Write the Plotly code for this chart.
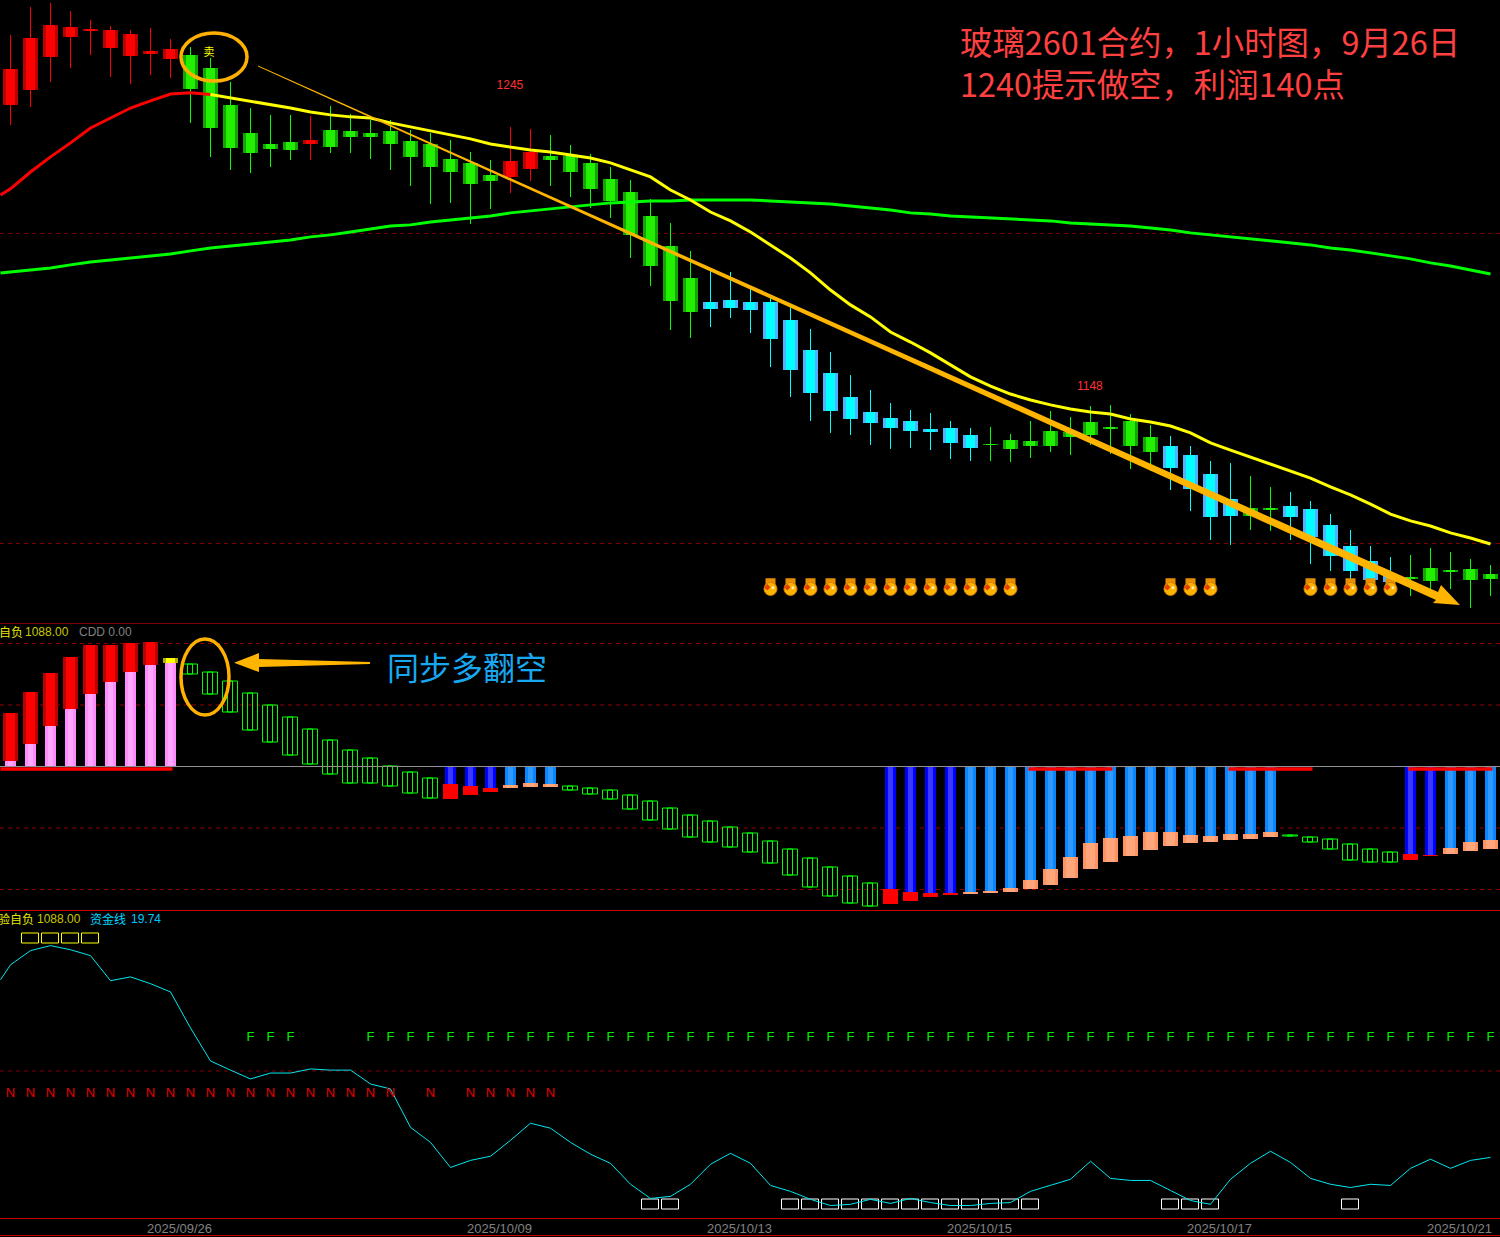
import plotly.graph_objects as go

W, H = 1500, 1237

# ---------- price panel ----------
candle_kind = "R"*9+"G"*6+"R"+"G"*9+"RR"+"G"*8+"C"*14+"G"*9+"C"*4+"GG"+"C"*6+"G"*5
price_high = [1277.8,1287.6,1289.0,1286.2,1283.0,1280.9,1279.5,1280.2,1276.4,1273.6,1269.7,1261.3,1252.2,1249.8,1249.8,
 1249.4,1252.9,1250.1,1248.0,1248.0,1244.5,1243.5,1241.0,1236.8,1234.0,1245.6,1244.9,1242.8,1239.3,1236.1,
 1231.6,1227.0,1220.4,1212.0,1202.2,1195.5,1194.8,1189.6,1186.1,1182.6,1174.9,1166.8,1158.8,1153.5,1149.0,
 1146.5,1145.5,1142.7,1140.2,1140.6,1138.1,1142.7,1146.2,1144.1,1147.9,1148.3,1145.1,1141.3,1137.4,1133.9,
 1128.7,1128.0,1123.4,1119.6,1117.8,1114.7,1110.1,1104.5,1098.9,1095.1,1095.8,1098.2,1096.8,1094.4,1092.3]
price_low = [1246.3,1252.6,1261.3,1266.2,1270.8,1263.1,1260.6,1263.8,1262.7,1247.0,1235.1,1230.5,1229.5,1231.6,1234.0,
 1234.0,1236.5,1236.5,1234.4,1230.5,1224.9,1218.6,1219.0,1211.6,1216.9,1222.5,1226.7,1224.9,1221.1,1217.2,
 1213.7,1199.7,1189.9,1174.5,1171.7,1175.6,1178.7,1173.5,1161.6,1151.1,1142.7,1138.5,1137.8,1134.3,1132.9,
 1133.2,1132.5,1129.4,1128.7,1128.7,1128.3,1129.7,1131.8,1130.8,1134.3,1131.1,1125.9,1125.2,1118.5,1111.2,
 1101.0,1099.3,1104.5,1104.2,1101.0,1092.6,1090.2,1084.6,1081.4,1081.4,1081.4,1083.5,1083.9,1077.2,1081.4]
body_top = [1265.9,1276.7,1281.3,1280.6,1279.9,1279.5,1278.1,1272.2,1272.9,1270.8,1266.2,1253.3,1243.5,1239.6,1240.3,
 1241.0,1244.5,1244.2,1243.5,1244.2,1240.7,1239.6,1234.4,1233.0,1228.8,1233.7,1236.8,1235.4,1235.4,1233.0,
 1227.4,1222.8,1214.4,1203.9,1192.7,1184.3,1185.0,1184.3,1184.3,1178.0,1167.5,1159.5,1151.1,1145.8,1143.7,
 1142.7,1139.9,1140.2,1137.8,1134.6,1136.0,1135.7,1139.2,1138.8,1142.3,1140.6,1142.7,1137.0,1133.9,1130.8,
 1124.1,1115.4,1112.2,1112.2,1112.9,1111.9,1106.3,1098.9,1093.7,1088.8,1088.1,1091.2,1090.5,1090.9,1089.1]
body_bottom = [1253.3,1258.5,1270.1,1277.1,1279.2,1273.2,1270.4,1271.1,1269.4,1258.9,1245.2,1238.2,1236.5,1237.9,1237.5,
 1239.6,1238.6,1242.0,1242.0,1239.6,1235.1,1231.6,1229.8,1225.6,1226.7,1228.1,1230.9,1234.0,1229.8,1223.9,
 1219.7,1207.8,1196.9,1184.7,1180.8,1181.9,1182.2,1181.5,1171.4,1160.5,1152.5,1146.2,1143.4,1142.0,1140.2,
 1139.2,1138.8,1135.0,1133.2,1134.3,1132.9,1133.9,1133.9,1137.0,1137.8,1139.9,1133.9,1131.8,1126.2,1118.9,
 1109.1,1109.4,1109.4,1111.5,1109.1,1102.1,1095.4,1090.2,1087.0,1086.3,1087.7,1086.7,1089.8,1087.0,1087.4]
ma_fast = [1223.9,1229.8,1235.1,1240.0,1245.2,1248.7,1252.2,1254.7,1257.1,1257.5,1256.9,1255.7,1254.7,1253.3,1252.2,
 1250.8,1249.8,1249.1,1248.7,1247.0,1245.6,1244.2,1242.8,1241.4,1239.6,1238.6,1237.5,1236.8,1235.8,1234.7,
 1233.0,1230.5,1228.1,1223.5,1220.0,1215.8,1212.7,1208.8,1204.3,1199.7,1194.5,1188.5,1183.3,1179.1,1173.8,
 1170.3,1166.5,1162.3,1158.1,1154.9,1152.1,1150.0,1148.3,1146.9,1145.8,1145.1,1143.4,1142.3,1140.9,1138.5,
 1135.0,1132.5,1130.1,1127.6,1125.2,1122.7,1119.6,1116.8,1113.6,1110.1,1107.7,1105.9,1103.5,1101.7,1099.6]
ma_fast_start = 1221.8
ma_slow = [1194.8,1195.5,1196.2,1197.3,1198.3,1199.0,1199.7,1200.4,1201.1,1202.2,1203.2,1203.9,1204.6,1205.3,1206.0,
 1207.1,1207.8,1208.8,1209.9,1210.9,1211.3,1212.3,1213.0,1213.7,1214.4,1215.5,1216.2,1216.9,1217.6,1218.3,
 1219.0,1219.3,1219.7,1219.7,1220.0,1220.0,1220.0,1220.0,1219.7,1219.3,1219.0,1218.6,1217.9,1217.2,1216.5,
 1215.5,1215.1,1214.4,1214.1,1213.7,1213.4,1213.0,1212.7,1212.0,1211.6,1211.3,1210.9,1210.2,1209.5,1208.5,
 1207.8,1207.1,1206.4,1205.7,1205.0,1204.3,1203.2,1202.5,1201.5,1200.4,1199.4,1198.0,1196.9,1195.5,1194.1]
ma_slow_start = 1194.5
price_levels = [1208.3, 1099.8]
bag_bars = list(range(38,51)) + [58,59,60] + [65,66,67,68,69]
bag_price = 1083.9

# ---------- middle indicator ----------
mid_kind = "P"*8+"Y"+"H"*13+"D"*3+"L"*3+"H"*16+"D"*4+"L"*16+"H"*6+"D"*2+"L"*3
mid_inner = [6,23,41,58,73,85,95,102,104,102,94,85,73,61,49,37,26,16,8,0,-6,-12,-17,-19,-21,-18,-16,-17,
 -20,-22,-24,-29,-35,-42,-49,-55,-61,-67,-75,-83,-92,-101,-110,-117,-122,-125,-126,-126,-125,-124,-121,-113,
 -102,-90,-76,-71,-69,-65,-65,-68,-69,-67,-67,-65,-69,-71,-73,-78,-83,-86,-87,-88,-81,-75,-73]
mid_outer = [54,75,94,110,122,122,124,125,109,92,72,54,36,24,11,2,-8,-17,-17,-20,-27,-32,-32,-28,-25,-21,-20,-20,
 -24,-28,-33,-43,-54,-63,-71,-76,-81,-86,-97,-109,-121,-130,-137,-140,-137,-134,-130,-128,-127,-126,-125,-122,
 -118,-111,-102,-95,-89,-83,-79,-76,-75,-73,-72,-70,-70,-76,-83,-94,-96,-96,-93,-89,-87,-84,-82]
mid_levels = [123, 61.5, -61.5, -123]
mid_signal_spans = [(-0.5,8.1), (50.9,55.1), (60.9,65.1), (69.9,74.1)]
mid_signal_value = -2.5

# ---------- bottom indicator ----------
fund_line = [86.0,90.8,92.5,91.1,89.1,80.6,81.9,79.6,76.8,64.6,53.4,50.3,47.3,49.3,49.3,50.7,50.3,50.3,45.6,43.9,
 30.9,25.8,17.3,19.7,21.1,26.5,32.3,30.6,25.8,21.8,18.7,11.6,6.8,7.5,11.6,18.4,22.1,18.7,11.2,9.2,
 6.5,4.4,4.8,6.5,5.1,6.8,5.4,4.4,4.4,5.1,5.4,9.2,11.2,13.3,19.4,13.6,12.9,12.9,9.5,6.1,
 4.8,13.3,18.7,22.8,19.0,13.6,11.6,10.5,11.6,11.2,17.0,20.1,17.0,19.7,20.7]
fund_start = 80.9
f_bars = [12,13,14] + list(range(18,75))
n_bars = list(range(0,20)) + [21] + [23,24,25,26,27]
yellow_boxes = [1,2,3,4]
white_boxes = [32,33] + list(range(39,52)) + [58,59,60] + [67]
fund_level = 50
f_value, n_value = 61.3, 42.2
yellow_box_value, white_box_value = 94.9, 4.76
box_size = 3.3

date_ticks = [8.45, 24.45, 36.45, 48.45, 60.45, 72.45]
date_labels = ["2025/09/26","2025/10/09","2025/10/13","2025/10/15","2025/10/17","2025/10/21"]

assert all(len(a)==75 for a in [candle_kind,price_high,price_low,body_top,body_bottom,ma_fast,ma_slow,mid_kind,mid_inner,mid_outer,fund_line])

bars = list(range(75))
WICK = {"R":"#ff0000","G":"#00ff00","C":"#00ffff"}
EDGE = {"R":"#b80000","G":"#12a600","C":"#4db2ff"}
CORE = {"R":"#ff0000","G":"#22f000","C":"#00ffff"}

fig = go.Figure()

def bar(x, base, top, width, color, axis="y", line=None):
    mk = dict(color=color, line=dict(width=0))
    if line:
        mk = dict(color="rgba(0,0,0,0)", line=dict(width=1, color=line))
    fig.add_trace(go.Bar(x=x, base=base, y=[t-b for t,b in zip(top,base)], width=width,
                         marker=mk, yaxis=axis, showlegend=False, hoverinfo="skip"))

# candles
bar(bars, price_low, price_high, 0.05, [WICK[k] for k in candle_kind])
bar(bars, body_bottom, body_top, 0.75, [EDGE[k] for k in candle_kind])
bar(bars, body_bottom, body_top, 0.42, [CORE[k] for k in candle_kind])

# moving averages
fig.add_trace(go.Scatter(x=[-0.5]+bars, y=[ma_slow_start]+ma_slow, mode="lines",
                         line=dict(color="#00ff00", width=3), showlegend=False, hoverinfo="skip"))
fig.add_trace(go.Scatter(x=[-0.5]+bars[:11], y=[ma_fast_start]+ma_fast[:11], mode="lines",
                         line=dict(color="#ff0000", width=3), showlegend=False, hoverinfo="skip"))
fig.add_trace(go.Scatter(x=bars[10:], y=ma_fast[10:], mode="lines",
                         line=dict(color="#ffff00", width=3), showlegend=False, hoverinfo="skip"))

# gold bags
bx = bag_bars
fig.add_trace(go.Scatter(x=bx, y=[bag_price+2.0]*len(bx), mode="markers",
                         marker=dict(symbol="square", size=10, color="#e89000", line=dict(width=0)),
                         showlegend=False, hoverinfo="skip"))
fig.add_trace(go.Scatter(x=bx, y=[bag_price]*len(bx), mode="markers",
                         marker=dict(symbol="circle", size=13, color="#ffb400", line=dict(width=1, color="#d88000")),
                         showlegend=False, hoverinfo="skip"))
fig.add_trace(go.Scatter(x=[b-0.16 for b in bx], y=[bag_price+0.6]*len(bx), mode="markers",
                         marker=dict(symbol="diamond", size=5, color="#e84000"),
                         showlegend=False, hoverinfo="skip"))
fig.add_trace(go.Scatter(x=[b+0.12 for b in bx], y=[bag_price+0.4]*len(bx), mode="markers",
                         marker=dict(symbol="circle", size=3, color="#fff0b0"),
                         showlegend=False, hoverinfo="skip"))

# value labels
fig.add_trace(go.Scatter(x=[24.97,53.97], y=[1259.9,1154.4], text=["1245","1148"], mode="text",
                         textfont=dict(color="#ff3030", size=12, family="Liberation Sans"),
                         showlegend=False, hoverinfo="skip"))
fig.add_trace(go.Scatter(x=[9.93], y=[1271.5], text=["卖"], mode="text",
                         textfont=dict(color="#ffff00", size=11, family="Noto Sans CJK SC"),
                         showlegend=False, hoverinfo="skip"))

# middle indicator
PALE = {"P":"#ff8cff","Y":"#ff8cff","D":"#0000ff","L":"#0a84ff"}
PALE_C = {"P":"#ffa6ff","Y":"#ffa6ff","D":"#3838ff","L":"#3099ff"}
TIP = {"P":"#b80000","Y":"#b0b000","D":"#ff0000","L":"#ff9360"}
TIP_C = {"P":"#ff0000","Y":"#ffff00","D":"#ff0000","L":"#ffa67c"}
solid = [i for i in bars if mid_kind[i] != "H"]
hollow = [i for i in bars if mid_kind[i] == "H"]
zeros = [0]*len(solid)
sx = solid
bar(sx, zeros, [mid_inner[i] for i in sx], 0.55, [PALE[mid_kind[i]] for i in sx], "y2")
bar(sx, zeros, [mid_inner[i] for i in sx], 0.22, [PALE_C[mid_kind[i]] for i in sx], "y2")
bar(sx, [mid_inner[i] for i in sx], [mid_outer[i] for i in sx], 0.75, [TIP[mid_kind[i]] for i in sx], "y2")
bar(sx, [mid_inner[i] for i in sx], [mid_outer[i] for i in sx], 0.42, [TIP_C[mid_kind[i]] for i in sx], "y2")
bar(hollow, [mid_inner[i] for i in hollow], [mid_outer[i] for i in hollow], 0.75, None, "y2", line="#00ff00")
bar(hollow, [mid_inner[i] for i in hollow], [mid_outer[i] for i in hollow], 0.25, None, "y2", line="#00ff00")
for a, b in mid_signal_spans:
    fig.add_trace(go.Scatter(x=[a,b], y=[mid_signal_value]*2, mode="lines", yaxis="y2",
                             line=dict(color="#ff0000", width=3.5), showlegend=False, hoverinfo="skip"))

# bottom indicator
fig.add_trace(go.Scatter(x=[-0.5]+bars, y=[fund_start]+fund_line, mode="lines", yaxis="y3",
                         line=dict(color="#00e8f0", width=1), showlegend=False, hoverinfo="skip"))
fig.add_trace(go.Scatter(x=f_bars, y=[f_value]*len(f_bars), text=["F"]*len(f_bars), mode="text", yaxis="y3",
                         textfont=dict(color="#00f000", size=13, family="Liberation Sans"),
                         showlegend=False, hoverinfo="skip"))
fig.add_trace(go.Scatter(x=n_bars, y=[n_value]*len(n_bars), text=["N"]*len(n_bars), mode="text", yaxis="y3",
                         textfont=dict(color="#e80000", size=13, family="Liberation Sans"),
                         showlegend=False, hoverinfo="skip"))
def boxes(idx, value, color):
    lo = [value-box_size/2]*len(idx)
    hi = [value+box_size/2]*len(idx)
    bar(idx, lo, hi, 0.82, None, "y3", line=color)
boxes(yellow_boxes, yellow_box_value, "#ffff00")
boxes(white_boxes, white_box_value, "#ffffff")

# ---------- overlays drawn in page pixels (hand-drawn annotations of the reference) ----------
def px(x): return x/W
def py(y): return 1-y/H

def poly(points, color):
    d = "M " + " L ".join(f"{px(x):.5f},{py(y):.5f}" for x,y in points) + " Z"
    return dict(type="path", xref="paper", yref="paper", path=d, fillcolor=color, line=dict(width=0), layer="above")

def ell(x0,y0,x1,y1):
    return dict(type="circle", xref="paper", yref="paper", x0=px(x0), x1=px(x1), y0=py(y1), y1=py(y0),
                line=dict(color="#ffb000", width=3.5), fillcolor="rgba(0,0,0,0)", layer="above")

GOLD = "#ffb400"
trend_arrow = [(258,65.6),(1438,592),(1441,585),(1460,605),(1433,603),(1436,600),(258,66.6)]
side_arrow = [(234,662.7),(259,653),(259,659),(370,662),(370,664),(259,667),(259,672)]

shapes = [poly(trend_arrow, GOLD), poly(side_arrow, GOLD),
          ell(181,33,247,81), ell(181,639,229,715)]
for lv in price_levels:
    shapes.append(dict(type="line", xref="paper", yref="y", x0=0, x1=1, y0=lv, y1=lv, layer="below",
                       line=dict(color="#800000", width=1, dash="4px,4px")))
for lv in mid_levels:
    shapes.append(dict(type="line", xref="paper", yref="y2", x0=0, x1=1, y0=lv, y1=lv, layer="below",
                       line=dict(color="#900000", width=1, dash="4px,4px")))
shapes.append(dict(type="line", xref="paper", yref="y3", x0=0, x1=1, y0=fund_level, y1=fund_level, layer="below",
                   line=dict(color="#800000", width=1, dash="4px,4px")))
shapes.append(dict(type="line", xref="paper", yref="y2", x0=0, x1=1, y0=0, y1=0, layer="above",
                   line=dict(color="#909090", width=1)))
for yy, col in [(623.5,"#800000"),(910.5,"#c80000"),(1218.5,"#c80000"),(1235.5,"#c80000")]:
    shapes.append(dict(type="line", xref="paper", yref="paper", x0=0, x1=1, y0=py(yy), y1=py(yy),
                       line=dict(color=col, width=1), layer="above"))

def note(x, y, text, color, size, family="Noto Sans CJK SC", anchor="left"):
    return dict(xref="paper", yref="paper", x=px(x), y=py(y), text=text, showarrow=False, align="left",
                xanchor=anchor, yanchor="middle", font=dict(color=color, size=size, family=family))

annotations = [
    note(958, 62, "玻璃2601合约，1小时图，9月26日<br>1240提示做空，利润140点", "#ff4040", 32.4),
    note(385, 666, "同步多翻空", "#18a8f0", 32),
    note(-3, 631.5, "自负", "#e6e600", 12),
    note(23, 631.5, "1088.00", "#c8c800", 12, "Liberation Sans"),
    note(77, 631.5, "CDD 0.00", "#808080", 12, "Liberation Sans"),
    note(-4, 918, "验自负", "#e6e600", 12),
    note(35, 918.5, "1088.00", "#c8c800", 12, "Liberation Sans"),
    note(88, 918, "资金线", "#00d8ff", 12),
    note(129, 918.5, "19.74", "#00c8ff", 12, "Liberation Sans"),
]

fig.update_layout(
    width=W, height=H, margin=dict(l=0,r=0,t=0,b=0),
    paper_bgcolor="#000000", plot_bgcolor="#000000",
    barmode="overlay", bargap=0, showlegend=False,
    xaxis=dict(range=[-0.525,74.475], anchor="y3", showgrid=False, zeroline=False, showline=False,
               tickmode="array", tickvals=date_ticks, ticktext=date_labels, ticks="", ticklen=0,
               tickfont=dict(color="#808080", size=13, family="Liberation Sans")),
    yaxis=dict(domain=[py(623.5),1], range=[1071.8,1290], visible=False, fixedrange=True),
    yaxis2=dict(domain=[py(910.5),py(623.5)], range=[-144,143], visible=False, fixedrange=True),
    yaxis3=dict(domain=[py(1218.5),py(910.5)], range=[0,104.4], visible=False, fixedrange=True),
    shapes=shapes, annotations=annotations,
)
fig.write_html("out.html", config={"displayModeBar": False},
               post_script="document.body.style.margin='0';document.body.style.background='#000';")
